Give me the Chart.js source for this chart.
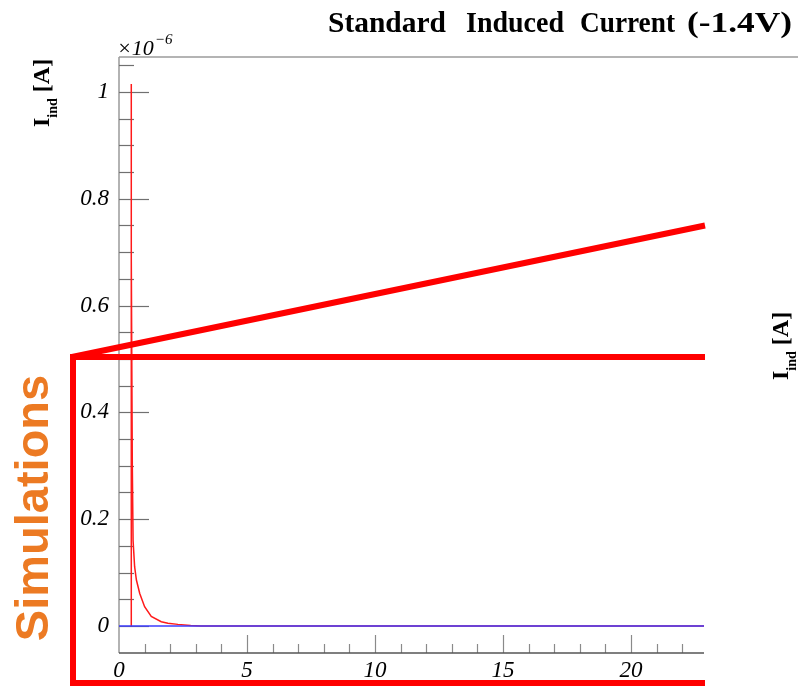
<!DOCTYPE html>
<html>
<head>
<meta charset="utf-8">
<script src="https://cdn.jsdelivr.net/npm/chart.js@4.4.1/dist/chart.umd.min.js"></script>
<style>
html,body{margin:0;padding:0;background:#fff;}
canvas{display:block;}
</style>
</head>
<body>
<canvas id="c" width="798" height="686"></canvas>
<script>
// ---- data (current in units of 1e-6 A, time axis as shown) ----
const redTime    = [0.47, 0.47, 0.49, 0.52, 0.55, 0.61, 0.68, 0.81, 1.00, 1.26, 1.65, 1.91, 2.30, 2.80, 3.20, 22.85];
const redCurrent = [0.0, 1.015, 0.69, 0.30, 0.16, 0.111, 0.086, 0.061, 0.036, 0.018, 0.008, 0.005, 0.003, 0.001, 0.0, 0.0];
const blueTime    = [0.0, 22.85];
const blueCurrent = [0.0, 0.0];
const xTicks = [0, 5, 10, 15, 20];
const yTicks = [0, 0.2, 0.4, 0.6, 0.8, 1];
const titleWords = ["Standard", "Induced", "Current", "(-1.4V)"];
const yTitleMain = "I", yTitleSub = "ind", yTitleUnit = " [A]";
const sideLabel = "Simulations";

const SERIF = '"Liberation Serif","Times New Roman",serif';
const SANS = '"Liberation Sans",Arial,sans-serif';

function pairs(xs, ys){ return xs.map((x,i)=>({x:x, y:ys[i]})); }

const decor = {
  id: 'decor',
  beforeDatasetsDraw(chart){
    const ctx = chart.ctx, a = chart.chartArea;
    const xs = chart.scales.x, ys = chart.scales.y;
    ctx.save();
    // top frame line
    ctx.strokeStyle = '#b4b4b4'; ctx.lineWidth = 2;
    ctx.beginPath(); ctx.moveTo(a.left, a.top); ctx.lineTo(798, a.top); ctx.stroke();
    // left axis
    ctx.strokeStyle = '#9a9a9a'; ctx.lineWidth = 1.5;
    ctx.beginPath(); ctx.moveTo(a.left, a.top); ctx.lineTo(a.left, a.bottom); ctx.stroke();
    // y ticks (inside)
    ctx.strokeStyle = '#707070'; ctx.lineWidth = 1.2;
    for (let k = -1; k <= 21; k++) {
      const v = k * 0.05;
      const py = Math.round(ys.getPixelForValue(v)) + 0.5;
      if (py < a.top || py > a.bottom) continue;
      const major = (k % 4 === 0);
      ctx.beginPath(); ctx.moveTo(a.left, py); ctx.lineTo(a.left + (major ? 30 : 15), py); ctx.stroke();
    }
    // x ticks (inside)
    ctx.strokeStyle = '#8a8a8a'; ctx.lineWidth = 1.2;
    for (let k = 1; k <= 22; k++) {
      const px = Math.round(xs.getPixelForValue(k)) + 0.5;
      const major = (k % 5 === 0);
      ctx.beginPath(); ctx.moveTo(px, a.bottom); ctx.lineTo(px, a.bottom - (major ? 18 : 9)); ctx.stroke();
    }
    // bottom axis
    ctx.strokeStyle = '#555'; ctx.lineWidth = 1.5;
    ctx.beginPath(); ctx.moveTo(a.left, a.bottom); ctx.lineTo(a.right, a.bottom); ctx.stroke();
    ctx.restore();
  },
  afterDraw(chart){
    const ctx = chart.ctx;
    ctx.save();
    ctx.fillStyle = '#000';
    // title, each word fitted to its span
    ctx.font = 'bold 29px ' + SERIF;
    ctx.textBaseline = 'alphabetic'; ctx.textAlign = 'left';
    const spans = [[328, 446], [466, 564], [580, 675], [687, 792]];
    titleWords.forEach((w,i)=>{
      const m = ctx.measureText(w).width;
      const sx = (spans[i][1] - spans[i][0]) / m;
      ctx.save();
      ctx.translate(spans[i][0], 32); ctx.scale(sx, 1);
      ctx.fillText(w, 0, 0);
      ctx.restore();
    });
    // exponent label
    ctx.font = 'italic 22px ' + SERIF;
    ctx.fillText('\u00d7' + '10', 117, 55);
    const w10 = ctx.measureText('\u00d7' + '10').width;
    ctx.font = 'italic 15px ' + SERIF;
    ctx.fillText('\u22126', 118 + w10, 44);
    // axis titles
    function axisTitle(bx, by){
      ctx.save();
      ctx.translate(bx, by); ctx.rotate(-Math.PI/2);
      ctx.font = 'bold 24px ' + SERIF;
      ctx.fillText(yTitleMain, 0, 0);
      let x = ctx.measureText(yTitleMain).width;
      ctx.font = 'bold 14px ' + SERIF;
      ctx.fillText(yTitleSub, x, 8);
      x += ctx.measureText(yTitleSub).width;
      ctx.font = 'bold 24px ' + SERIF;
      ctx.fillText(yTitleUnit, x, 0);
      ctx.restore();
    }
    axisTitle(49, 127);
    axisTitle(788, 380);
    // red overlay shapes
    ctx.strokeStyle = '#ff0000'; ctx.lineWidth = 6; ctx.lineCap = 'butt';
    ctx.beginPath(); ctx.moveTo(72, 357); ctx.lineTo(705, 225.5); ctx.stroke();
    ctx.beginPath(); ctx.moveTo(70, 357); ctx.lineTo(705, 357); ctx.stroke();
    ctx.beginPath(); ctx.moveTo(73, 354); ctx.lineTo(73, 686); ctx.stroke();
    ctx.beginPath(); ctx.moveTo(70, 683); ctx.lineTo(705, 683); ctx.stroke();
    // side label
    ctx.save();
    ctx.translate(48, 508); ctx.rotate(-Math.PI/2);
    ctx.font = 'bold 47px ' + SANS;
    ctx.fillStyle = '#ec7a23';
    ctx.textAlign = 'center'; ctx.textBaseline = 'alphabetic';
    ctx.fillText(sideLabel, 0, 0);
    ctx.restore();
    ctx.restore();
  }
};

new Chart(document.getElementById('c'), {
  type: 'scatter',
  data: {
    datasets: [
      { label: 'blue', data: pairs(blueTime, blueCurrent), showLine: true, borderColor: '#3c3cff', borderWidth: 1.5, pointRadius: 0, order: 0 },
      { label: 'red', data: pairs(redTime, redCurrent), showLine: true, borderColor: '#ff1a1a', borderWidth: 1.5, pointRadius: 0, tension: 0, order: 1 }
    ]
  },
  options: {
    responsive: false,
    animation: false,
    layout: { padding: { top: 57, right: 94, left: 0, bottom: 0 } },
    plugins: { legend: { display: false }, tooltip: { enabled: false }, title: { display: false } },
    scales: {
      x: {
        type: 'linear', min: 0, max: 22.85,
        afterFit: s => { s.height = 33; },
        afterBuildTicks: s => { s.ticks = xTicks.map(v => ({ value: v })); },
        grid: { display: false, drawTicks: false },
        border: { display: false },
        ticks: { color: '#000', font: { family: SERIF, size: 23, style: 'italic' }, padding: 4, maxRotation: 0, autoSkip: false, callback: v => String(v) }
      },
      y: {
        type: 'linear', min: -0.0506, max: 1.0655,
        afterFit: s => { s.width = 119; },
        afterBuildTicks: s => { s.ticks = yTicks.map(v => ({ value: v })); },
        grid: { display: false, drawTicks: false },
        border: { display: false },
        ticks: { color: '#000', font: { family: SERIF, size: 23, style: 'italic' }, padding: 10, autoSkip: false, callback: v => String(v) }
      }
    }
  },
  plugins: [decor]
});
</script>
</body>
</html>
